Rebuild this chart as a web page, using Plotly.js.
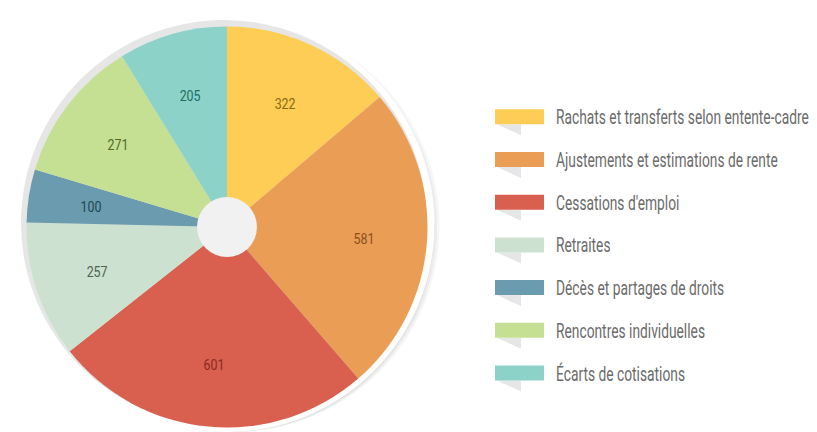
<!DOCTYPE html>
<html><head><meta charset="utf-8">
<script src="https://cdn.plot.ly/plotly-3.0.1.min.js"></script>
<style>html,body{margin:0;padding:0;background:#fff;}#chart{width:817px;height:432px;}</style>
</head><body><div id="chart"></div>
<script>
const categories = ["Rachats et transferts selon entente-cadre","Ajustements et estimations de rente","Cessations d'emploi","Retraites","Décès et partages de droits","Rencontres individuelles","Écarts de cotisations"];
const values = [322, 581, 601, 257, 100, 271, 205];
const colors = ["#FECD55","#E99D55","#D95F4F","#CCE1CF","#6A9BAE","#C5DF93","#8DD2C9"];
const textColors = ["#8a6a12","#8b4f1e","#8a2b22","#4d6450","#1d4756","#4f6a2a","#1b6e62"];

const W = 817, H = 432;
function dom(cx, cy, r){ return {x:[(cx-r)/W,(cx+r)/W], y:[1-(cy+r)/H,1-(cy-r)/H]}; }
let discN = 0;
function disc(cx, cy, r, color){
  discN++;
  return {type:'pie', values:[1], labels:['disc'+discN], domain:dom(cx,cy,r), sort:false,
    marker:{colors:[color], line:{width:0}}, textinfo:'none', hoverinfo:'skip', showlegend:false};
}
const CX = 227, CY = 227, R = 200.5;
const traces = [
  disc(CX+7, CY+9, 215, '#f6f6f6'),
  disc(CX+5, CY+6, 211, '#ececec'),
  disc(CX+3, CY+4, 208, '#e0e0e0'),
  disc(CX, CY-1, 209, '#ffffff'),
  disc(CX-3, CY-4, 203, '#e6e6e6'),
  {type:'pie', values:values, labels:categories, domain:dom(CX,CY,R), sort:false, direction:'clockwise', rotation:0,
   marker:{colors:colors, line:{width:0}}, textinfo:'none', hoverinfo:'label+value', showlegend:false},
  disc(CX, CY, 30, '#f1f1f1')
];

const shapes = [], annotations = [];
const rowY0 = 116.8, rowStep = 42.7;
categories.forEach((c,i)=>{
  const yc = rowY0 + i*rowStep;
  shapes.push({type:'path', xref:'paper', yref:'paper',
    path:`M ${497/W},${1-(yc+7.5)/H} L ${521/W},${1-(yc+7.5)/H} L ${521/W},${1-(yc+18.5)/H} Z`,
    fillcolor:'#e6e6e8', line:{width:0}});
  shapes.push({type:'rect', xref:'paper', yref:'paper', x0:495/W, x1:544/W, y0:1-(yc+7.5)/H, y1:1-(yc-7.5)/H,
    fillcolor:colors[i], line:{width:0}});
  annotations.push({xref:'paper', yref:'paper', x:554/W, y:1-(yc+0.5)/H, xanchor:'left', yanchor:'middle', align:'left', showarrow:false,
    text:c, font:{family:'Roboto', size:20, color:'#6b6b6b'}});
});
// value labels at each slice's mid-angle
const total = values.reduce((a,b)=>a+b,0);
let cum = 0;
const rLab = 0.685*R;
values.forEach((v,i)=>{
  const mid = (cum + v/2)/total*2*Math.PI; cum += v;
  const px = CX + rLab*Math.sin(mid), py = CY - rLab*Math.cos(mid);
  annotations.push({xref:'paper', yref:'paper', x:px/W, y:1-(py+1.5)/H, xanchor:'center', yanchor:'middle', showarrow:false,
    text:String(v), font:{family:'Roboto', size:15.5, color:textColors[i]}});
});

Plotly.newPlot('chart', traces, {width:W, height:H, margin:{l:0,r:0,t:0,b:0}, paper_bgcolor:'#fff',
  showlegend:false, shapes:shapes, annotations:annotations}, {displayModeBar:false, staticPlot:true}).then(()=>{
  // condense the text horizontally to match the narrow typeface of the original
  document.querySelectorAll('.annotation').forEach(g=>{
    const idx = +g.getAttribute('data-index');
    const t = g.querySelector('text.annotation-text');
    if(!t) return;
    const legend = idx < categories.length;
    const k = legend ? 0.69 : 0.8;
    const bb = t.getBBox();
    const x0 = legend ? bb.x : bb.x + bb.width/2;
    t.setAttribute('transform', `translate(${x0},0) scale(${k},1) translate(${-x0},0)`);
    const bg = g.querySelector('rect.bg');
    if(bg){
      const bx = parseFloat(bg.getAttribute('x')||0);
      const bw = parseFloat(bg.getAttribute('width'));
      const cxr = legend ? bx : bx + bw/2;
      bg.setAttribute('transform', `translate(${cxr},0) scale(${k},1) translate(${-cxr},0)`);
    }
  });
});
</script></body></html>
